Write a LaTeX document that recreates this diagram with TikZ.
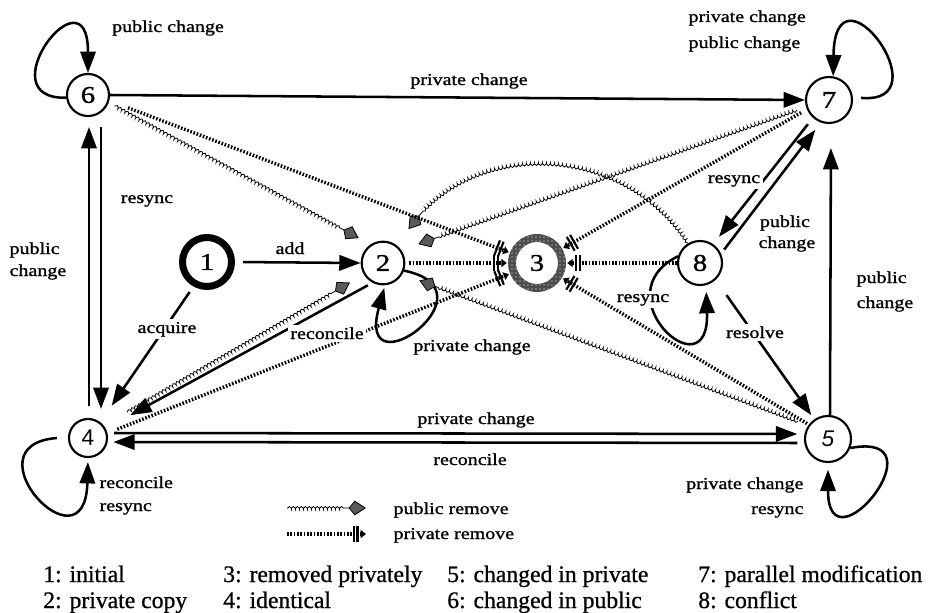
\documentclass[tikz,border=0pt]{standalone}
\usepackage{fontspec}
\setmainfont{Liberation Serif}[FakeStretch=1.2,FakeBold=1.2]
\newfontfamily\legfont{Liberation Serif}[FakeBold=0.8]
\newfontfamily\digsans{Liberation Sans}
\usetikzlibrary{arrows.meta,decorations.pathmorphing,patterns,calc}
\begin{document}
\begin{tikzpicture}[x=0.75pt,y=-0.75pt,
  st/.style={circle,draw,line width=1.6pt,minimum size=31.5pt,inner sep=0pt,font=\fontsize{18}{18}\selectfont},
  lbl/.style={font=\fontsize{12.5}{15}\selectfont,inner sep=1pt},
  lblw/.style={lbl,fill=white,inner sep=2pt},
  leg/.style={font=\legfont\fontsize{17.75}{20}\selectfont,inner sep=0pt,anchor=base west},
  tr/.style={line width=1.9pt,-{Triangle[length=16pt,width=11.5pt]}},
  pubrm/.style={line width=0.6pt,decorate,
     decoration={coil,aspect=0.5,amplitude=1.1pt,segment length=3pt,pre length=0.5pt,post length=15pt},
     -{Kite[length=13pt,width=11pt,inset=4.5pt,fill=black!65,line width=0.6pt]}},
  privrm/.style={line width=2.6pt,dash pattern=on 1.2pt off 1.3pt,
     -{Bar[width=12pt,line width=1.6pt,sep=1.3pt]Bar[width=12pt,line width=1.6pt,sep=1.6pt]Triangle[length=4pt,width=6pt]}}
]
\useasboundingbox (0,0) rectangle (931,613);

% states
\node[st] (n6) at (88,95) {6};
\node[st,minimum size=34.5pt] (n7) at (829,100) {7};
\node[st,line width=5.25pt,minimum size=36.75pt] (n1) at (207,262) {1};
\node[st,minimum size=32pt] (n2) at (383,263) {2};
\node[circle,inner sep=0pt,minimum size=45pt,font=\fontsize{18}{18}\selectfont] (n3) at (537,263) {3};
\node[st,minimum size=33pt] (n8) at (700,263) {8};
\node[st,minimum size=28.5pt,font=\digsans\fontsize{17}{17}\selectfont] (n4) at (88,438) {4};
\node[st,minimum size=34.5pt,font=\digsans\itshape\fontsize{17}{17}\selectfont] (n5) at (828,439) {5};

% ring of state 3
\fill[black!70,even odd rule] (n3.center) circle[radius=21.75pt] circle[radius=15.75pt];
\fill[pattern=dots,pattern color=white,even odd rule] (n3.center) circle[radius=21.75pt] circle[radius=15.75pt];

% self loops
\draw[tr] (n6.187) .. controls (-15,100) and (88,-35) .. (n6.north);
\draw[tr] ([xshift=6pt]n7.5) .. controls (945,105) and (835,-45) .. (n7.80);
\draw[tr,shorten >=3pt] ([xshift=-8.25pt]n4.west) .. controls (-35,445) and (85,575) .. (n4.south);
\draw[tr,shorten >=5pt] (n5.-22) .. controls (945,430) and (828,575) .. (n5.south);
\draw[tr,shorten >=5pt] (n8.163) .. controls (600,295) and (710,395) .. (n8.-75);
\draw[tr,shorten >=2pt] (n2.-20) .. controls (500,290) and (355,395) .. (n2.-85);

% solid transitions
\draw[tr] (n6.east) -- (n7.west);
\draw[tr,shorten <=6pt] (n1.east) -- (n2.west);
\draw[tr,shorten <=5pt,shorten >=15pt] (n1.-119) -- (n4.52);
\draw[tr,shorten <=4pt,shorten >=21pt] (n2.242) -- (n4.28);
\draw[tr,shorten <=9pt,shorten >=7.5pt] ([xshift=0.75pt]n4.north) -- ([xshift=0.75pt]n6.south);
\draw[tr,shorten <=7.5pt,shorten >=6.75pt] ([xshift=9.75pt]n6.south) -- ([xshift=9.75pt]n4.north);
\draw[tr,shorten <=4.5pt,shorten >=5pt] ([yshift=3.75pt]n4.east) -- ([yshift=3.75pt]n5.west);
\draw[tr,shorten <=5pt,shorten >=4pt] ([yshift=-3pt]n5.west) -- ([yshift=-3pt]n4.east);
\draw[tr,shorten >=18pt] ([xshift=1.5pt]n5.north) -- ([xshift=1.5pt]n7.south);
\draw[tr,shorten <=6pt,shorten >=7pt] (n7.-132) -- (n8.55);
\draw[tr,shorten <=3.75pt,shorten >=6.75pt] (n8.24) -- (n7.-110);
\draw[tr,shorten <=14pt,shorten >=3.75pt] (n8.-47) -- (n5.125);

% public remove
\draw[pubrm] ($(n6.-20)!5pt!(n2.124)$) -- ($(n2.124)!10pt!(n6.-20)$);
\draw[pubrm] ($(n7.197)!7pt!(n2.35)$) -- ($(n2.35)!13.5pt!(n7.197)$);
\draw[pubrm] ($(n4.38)!20pt!(n2.211)$) -- ($(n2.211)!12pt!(n4.38)$);
\draw[pubrm] ($(n5.146)!8pt!(n2.-30)$) -- ($(n2.-30)!13.5pt!(n5.146)$);
\draw[pubrm] (n8.122) .. controls (620,140) and (470,140) .. ($(n2.51)!15pt!(470,140)$);

% private remove
\draw[privrm,shorten <=15pt] (n6.-15) -- (n3);
\draw[privrm,shorten <=5pt] (n7.203) -- (n3);
\draw[privrm,shorten <=3pt] (n2.east) -- (n3);
\draw[privrm] (n8.west) -- (n3);
\draw[privrm,shorten <=8pt] (n4.14) -- (n3);
\draw[privrm,shorten <=1.5pt] (n5.143) -- (n3);

% labels
\node[lbl,anchor=base] (t6) at (168,32) {public change};
\node[lbl,anchor=base] (t67) at (469,85) {private change};
\node[lbl,anchor=base] (t64) at (147,203) {resync};
\node[lbl,anchor=base west] (t46a) at (8,254) {public};
\node[lbl,anchor=base west] (t46b) at (8,276) {change};
\node[lbl,anchor=base] (t12) at (290,254) {add};
\node[lblw,anchor=base] (t14) at (167,333) {acquire};
\node[lblw,anchor=base] (t24) at (327,339) {reconcile};
\node[lbl,anchor=base] (t22) at (472,351) {private change};
\node[lbl,anchor=base] (t45) at (476,424) {private change};
\node[lbl,anchor=base] (t54) at (470,465) {reconcile};
\node[lbl,anchor=base west] (t44a) at (98,488) {reconcile};
\node[lbl,anchor=base west] (t44b) at (98,511) {resync};
\node[lbl,anchor=base east] (t55a) at (805,489) {private change};
\node[lbl,anchor=base east] (t55b) at (805,514) {resync};
\node[lblw,anchor=base] (t85) at (755,338) {resolve};
\node[lbl,anchor=base west] (t57a) at (855,283) {public};
\node[lbl,anchor=base west] (t57b) at (855,308) {change};
\node[lblw,anchor=base] (t88) at (643,302) {resync};
\node[lblw,anchor=base] (t78) at (734,183) {resync};
\node[lblw,anchor=base west] (t87a) at (757,227) {public};
\node[lbl,anchor=base west] (t87b) at (757,248) {change};
\node[lbl,anchor=base west] (t77a) at (687,22) {private change};
\node[lbl,anchor=base west] (t77b) at (687,48) {public change};

% legend
\coordinate (lgA1) at (287,508);
\coordinate (lgA2) at (366,508);
\coordinate (lgB1) at (287,534);
\coordinate (lgB2) at (366,534);
\draw[pubrm] (lgA1) -- (lgA2);
\draw[privrm] (lgB1) -- (lgB2);
\node[lbl,anchor=base west] (lg1) at (392,514) {public remove};
\node[lbl,anchor=base west] (lg2) at (392,539) {private remove};

\node[leg] (k1) at (43,582) {1: initial};
\node[leg] (k2) at (43,608) {2: private copy};
\node[leg] (k3) at (223,582) {3: removed privately};
\node[leg] (k4) at (223,608) {4: identical};
\node[leg] (k5) at (447,582) {5: changed in private};
\node[leg] (k6) at (447,608) {6: changed in public};
\node[leg] (k7) at (698,582) {7: parallel modification};
\node[leg] (k8) at (698,608) {8: conflict};
\end{tikzpicture}
\end{document}
